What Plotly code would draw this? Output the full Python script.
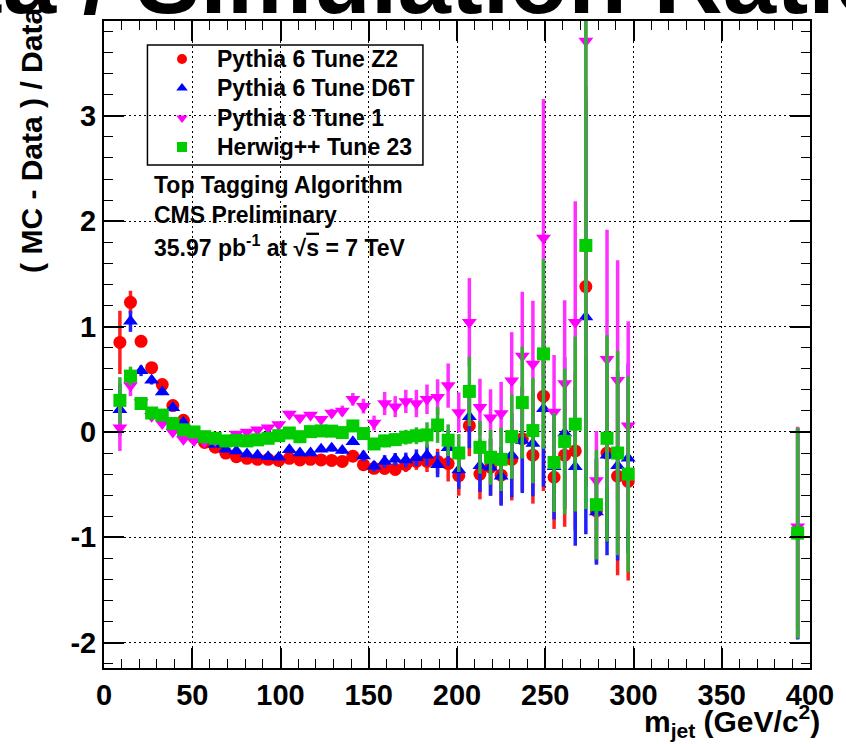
import plotly.graph_objects as go

mass = [9, 15, 21, 27, 33, 39, 45, 51, 57, 63, 69, 75, 81, 87, 93, 99, 105, 111, 117, 123,
        129, 135, 141, 147, 153, 159, 165, 171, 177, 183, 189, 195, 201, 207, 213, 219, 225,
        231, 237, 243, 249, 255, 261, 267, 273, 279, 285, 291, 297, 393]

z2 = [0.85, 1.23, 0.86, 0.61, 0.45, 0.25, 0.11, -0.05, -0.10, -0.145, -0.20, -0.235, -0.25,
      -0.26, -0.26, -0.27, -0.25, -0.265, -0.26, -0.265, -0.27, -0.28, -0.23, -0.31, -0.345,
      -0.345, -0.355, -0.31, -0.28, -0.28, -0.28, -0.30, -0.415, 0.06, -0.40, -0.335, -0.41,
      -0.26, -0.065, -0.22, 0.34, -0.43, -0.22, -0.18, 1.38, -0.75, -0.20, -0.42, -0.47, -0.96]
z2_err = [0.30, 0.11, 0.05, 0.04, 0.03, 0.03, 0.02, 0.02, 0.02, 0.02, 0.02, 0.02, 0.02, 0.02,
          0.02, 0.02, 0.02, 0.02, 0.02, 0.02, 0.03, 0.03, 0.03, 0.05, 0.05, 0.06, 0.06, 0.07,
          0.08, 0.10, 0.12, 0.17, 0.19, 0.29, 0.24, 0.27, 0.28, 0.39, 0.50, 0.46, 0.90, 0.49,
          0.68, 0.75, 1.90, 0.50, 0.85, 0.94, 0.94, 1.00]

d6t = [0.21, 1.05, 0.58, 0.49, 0.38, 0.23, 0.09, -0.04, -0.075, -0.12, -0.165, -0.18, -0.21,
       -0.22, -0.235, -0.24, -0.17, -0.20, -0.20, -0.165, -0.155, -0.177, -0.092, -0.228,
       -0.325, -0.28, -0.26, -0.266, -0.245, -0.22, -0.31, -0.15, -0.36, 0.145, -0.32, -0.335,
       -0.42, -0.22, -0.08, -0.11, 0.22, -0.33, -0.01, -0.33, 1.09, -0.76, -0.22, -0.32, -0.25, -0.97]
d6t_err = [0.25, 0.10, 0.05, 0.04, 0.03, 0.03, 0.02, 0.02, 0.02, 0.02, 0.02, 0.02, 0.02, 0.02,
           0.02, 0.02, 0.02, 0.02, 0.02, 0.02, 0.03, 0.03, 0.03, 0.05, 0.05, 0.06, 0.06, 0.07,
           0.08, 0.10, 0.12, 0.17, 0.18, 0.30, 0.25, 0.27, 0.28, 0.40, 0.50, 0.50, 0.74, 0.50,
           0.72, 0.75, 2.06, 0.50, 0.95, 0.90, 0.90, 1.00]

py8 = [0.04, 0.44, 0.28, 0.15, 0.08, 0.0, -0.07, -0.08, -0.09, -0.08, -0.06, -0.02, 0.00,
       0.02, 0.04, 0.07, 0.17, 0.135, 0.16, 0.12, 0.18, 0.20, 0.31, 0.245, 0.085, 0.27, 0.24,
       0.29, 0.27, 0.31, 0.33, 0.44, 0.185, 1.04, 0.235, 0.135, 0.175, 0.487, 0.72, 0.645,
       1.84, 0.19, 0.46, 1.04, 3.71, -0.46, 0.69, 0.49, 0.06, -0.90]
py8_err = [0.22, 0.10, 0.05, 0.04, 0.03, 0.03, 0.02, 0.02, 0.02, 0.02, 0.02, 0.02, 0.02, 0.02,
           0.02, 0.02, 0.02, 0.02, 0.02, 0.02, 0.04, 0.05, 0.06, 0.07, 0.07, 0.11, 0.10, 0.11,
           0.13, 0.14, 0.17, 0.21, 0.19, 0.42, 0.27, 0.27, 0.30, 0.46, 0.61, 0.60, 1.32, 0.54,
           0.79, 1.15, 3.00, 0.47, 1.23, 1.14, 0.99, 0.95]

hw = [0.30, 0.53, 0.27, 0.18, 0.16, 0.08, 0.02, 0.00, -0.045, -0.06, -0.085, -0.08, -0.085,
      -0.075, -0.06, -0.035, -0.01, -0.045, 0.003, 0.01, 0.008, -0.006, 0.057, -0.015, -0.114,
      -0.085, -0.073, -0.05, -0.036, -0.028, 0.066, -0.078, -0.20, 0.385, -0.146, -0.24, -0.26,
      -0.044, 0.279, 0.013, 0.741, -0.29, -0.09, 0.074, 1.77, -0.69, -0.06, -0.20, -0.40, -0.96]
hw_err = [0.22, 0.09, 0.04, 0.03, 0.03, 0.02, 0.02, 0.02, 0.02, 0.02, 0.02, 0.02, 0.02, 0.02,
          0.02, 0.02, 0.02, 0.02, 0.02, 0.02, 0.03, 0.03, 0.03, 0.04, 0.05, 0.06, 0.06, 0.07,
          0.08, 0.12, 0.17, 0.15, 0.18, 0.33, 0.25, 0.26, 0.30, 0.40, 0.53, 0.50, 0.90, 0.47,
          0.69, 0.83, 2.50, 0.52, 0.98, 0.97, 0.93, 1.00]

names = ["Pythia 6 Tune Z2", "Pythia 6 Tune D6T", "Pythia 8 Tune 1", "Herwig++ Tune 23"]
y_ticks = [-2, -1, 0, 1, 2, 3]
y_ticktext = ["-2", "-1", "0", "1", "2", "3"]
info_lines = ["Top Tagging Algorithm", "CMS Preliminary",
              "35.97 pb<sup>-1</sup> at \u221a<span style='text-decoration:overline'>s</span> = 7 TeV"]

series = [z2, d6t, py8, hw]
errors = [z2_err, d6t_err, py8_err, hw_err]
colors = ["#ff0000", "#0000ff", "#ff00ff", "#00cc00"]
bar_colors = ["#ff2020", "#2020ff", "#ff30ff", "#33b033"]
symbols = ["circle", "triangle-up", "triangle-down", "square"]

FONT = "Liberation Sans, Arial, sans-serif"

# plot frame in pixels (page is 846 x 744)
L, R, T, B = 104, 819, 21, 668


def px(xp):
    return (xp - L) / (R - L)


def py(yp):
    return (B - yp) / (B - T)


fig = go.Figure()
for name, ys, es, c, bc, s in zip(names, series, errors, colors, bar_colors, symbols):
    fig.add_trace(go.Scatter(
        x=mass, y=ys, mode="markers", showlegend=False, name=name,
        marker=dict(color=c, symbol=s, size=13, line=dict(width=0)),
        error_y=dict(type="data", array=es, visible=True, color=bc, thickness=3.5, width=0),
    ))

# legend box (white fill under traces, border on top)
fig.add_shape(type="rect", xref="paper", yref="paper", x0=px(148), x1=px(427),
              y0=py(165), y1=py(45), line=dict(width=0), fillcolor="white", layer="between")
fig.add_shape(type="rect", xref="paper", yref="paper", x0=px(148), x1=px(427),
              y0=py(165), y1=py(45), line=dict(color="black", width=1.5),
              fillcolor="rgba(0,0,0,0)", layer="above")

# legend symbols on a pixel-coordinate overlay
leg_y = [59, 88, 118, 147]
fig.add_trace(go.Scatter(
    x=[183] * 4, y=leg_y, mode="markers", showlegend=False, hoverinfo="skip",
    xaxis="x2", yaxis="y2", cliponaxis=False,
    marker=dict(color=colors, symbol=symbols, size=10, line=dict(width=0)),
))

axis_common = dict(
    showline=True, linecolor="black", linewidth=2, mirror="allticks",
    ticks="inside", tickcolor="black", tickwidth=1.5, ticklen=20,
    showgrid=True, gridcolor="black", gridwidth=1, griddash="2px,3px",
    zeroline=False,
    tickfont=dict(family=FONT, size=29, color="black", weight="bold"),
)

fig.update_layout(
    xaxis=dict(range=[0, 400], tick0=0, dtick=50,
               minor=dict(dtick=10, ticks="inside", ticklen=9, tickcolor="black",
                          tickwidth=1.2, showgrid=False),
               **axis_common),
    yaxis=dict(range=[-2.24, 3.9], tickvals=y_ticks, ticktext=y_ticktext,
               minor=dict(dtick=0.2, tick0=0, ticks="inside", ticklen=9, tickcolor="black",
                          tickwidth=1.2, showgrid=False),
               **axis_common),
    xaxis2=dict(range=[L, R], overlaying="x", anchor="y2", visible=False, fixedrange=True),
    yaxis2=dict(range=[B, T], overlaying="y", anchor="x2", visible=False, fixedrange=True),
    width=846, height=744,
    margin=dict(l=L, r=846 - R, t=T, b=744 - B),
    plot_bgcolor="white", paper_bgcolor="white",
    font=dict(family=FONT, color="black", weight="bold"),
    showlegend=False,
)

annos = [
    dict(text="Data / Simulation Ratio", x=-157, y=35, xanchor="left", yanchor="bottom",
         font=dict(family=FONT, size=96, weight="bold")),
    dict(text="( MC - Data ) / Data", x=30, y=140, xanchor="center", yanchor="middle",
         textangle=-90, font=dict(family=FONT, size=30, weight="bold")),
    dict(text="m<sub>jet</sub> (GeV/c<sup>2</sup>)", x=831, y=721, xanchor="right",
         yanchor="middle", font=dict(family=FONT, size=30, weight="bold")),
]
for name, yy in zip(names, leg_y):
    annos.append(dict(text=name, x=216, y=yy, xanchor="left", yanchor="middle",
                      font=dict(family=FONT, size=23, weight="bold")))
for line, yy in zip(info_lines, [185, 215, 246]):
    annos.append(dict(text=line, x=153, y=yy, xanchor="left", yanchor="middle",
                      font=dict(family=FONT, size=23, weight="bold")))
for a in annos:
    a["showarrow"] = False
    a["xref"] = "paper"
    a["yref"] = "paper"
    a["x"] = px(a["x"])
    a["y"] = py(a["y"])
    fig.add_annotation(**a)

fig.write_html("out.html")
